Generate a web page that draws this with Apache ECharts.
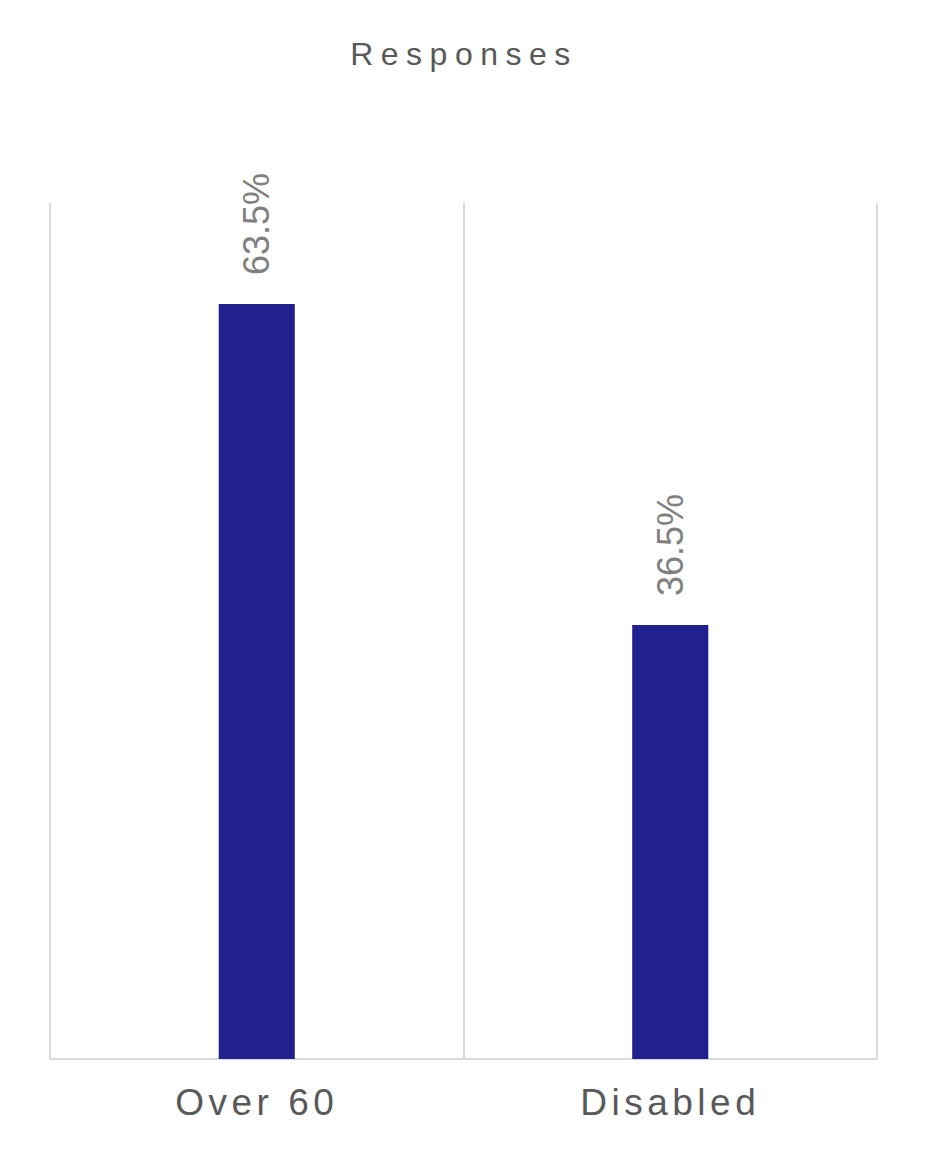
<!DOCTYPE html>
<html>
<head>
<meta charset="utf-8">
<style>
html,body{margin:0;padding:0;background:#fff;}
#chart{width:928px;height:1155px;}
</style>
<script src="https://cdn.jsdelivr.net/npm/echarts@6/dist/echarts.min.js"></script>
</head>
<body>
<div id="chart"></div>
<script>
const titleText = 'Responses';
const categories = ['Over 60', 'Disabled'];
const values = [63.5, 36.5];

const FONT = '"Liberation Sans", Arial, sans-serif';
const chart = echarts.init(document.getElementById('chart'), null, {renderer: 'svg'});
chart.setOption({
  animation: false,
  backgroundColor: '#ffffff',
  title: {
    text: titleText,
    left: 'center',
    top: 33,
    textStyle: {fontFamily: FONT, fontSize: 32, fontWeight: 'normal', color: '#595959'}
  },
  grid: {left: 50, right: 51, top: 203, bottom: 96, containLabel: false},
  xAxis: {
    type: 'category',
    data: categories,
    axisLine: {show: true, lineStyle: {color: '#d9d9d9', width: 2}},
    axisTick: {show: false},
    splitLine: {show: true, lineStyle: {color: '#d9d9d9', width: 2}},
    axisLabel: {fontFamily: FONT, fontSize: 37, color: '#595959', margin: 25}
  },
  yAxis: {
    type: 'value', min: 0, max: 72, show: false,
    splitLine: {show: false}
  },
  series: [{
    type: 'bar',
    data: values,
    barWidth: '18.4%',
    itemStyle: {color: '#20208f'},
    label: {
      show: true,
      position: 'top',
      distance: 29,
      rotate: 90,
      align: 'left',
      verticalAlign: 'middle',
      fontFamily: FONT,
      fontSize: 36,
      color: '#808080',
      formatter: p => p.value.toFixed(1) + '%'
    }
  }]
});

function applySpacing() {
  document.querySelectorAll('#chart text').forEach(t => {
    const s = t.textContent;
    if (s === titleText) t.setAttribute('letter-spacing', '7.5');
    else if (categories.indexOf(s) >= 0) t.setAttribute('letter-spacing', '4.5');
  });
}
chart.on('finished', applySpacing);
applySpacing();
</script>
</body>
</html>
